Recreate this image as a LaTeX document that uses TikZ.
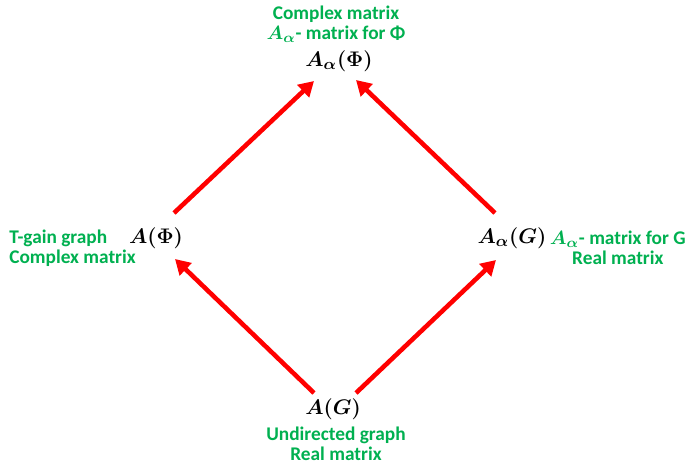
\documentclass[tikz,border=0pt]{standalone}
\usepackage{amsmath}
\usepackage{bm}
\usepackage{fontspec}
\setsansfont{Carlito}
\usetikzlibrary{arrows.meta}
\definecolor{lblgreen}{RGB}{0,176,80}

\begin{document}
\begin{tikzpicture}[x=0.02cm,y=-0.02cm,line width=.35pt,
  mat/.style={inner sep=0pt,font=\fontsize{12.8}{15}\selectfont},
  lbl/.style={inner sep=0pt,text=lblgreen,font=\sffamily\bfseries\fontsize{11}{11.2}\selectfont},
  arr/.style={draw=red,line width=2.6pt,-{Triangle[length=8.5pt,width=9.5pt]}}]
\useasboundingbox (0,0) rectangle (690,464);
\node[mat] (top) at (339,61) {$\bm{A_\alpha(\Phi)}$};
\node[mat] (lft) at (156,238) {$\bm{A(\Phi)}$};
\node[mat] (rgt) at (512,238) {$\bm{A_\alpha(G)}$};
\node[mat] (bot) at (333,409) {$\bm{A(G)}$};
\node[lbl,align=center] (toplbl) at (336,24) {Complex matrix\\$\bm{A_\alpha}$- matrix for Φ};
\node[lbl,align=left,anchor=west] (lftlbl) at (9,248) {T-gain graph\\Complex matrix};
\node[lbl,align=center,anchor=east] (rgtlbl) at (686,248) {$\bm{A_\alpha}$- matrix for G\\Real matrix};
\node[lbl,align=center] (botlbl) at (336,444) {Undirected graph\\Real matrix};
\draw[arr] ([shift={(18,-25)}]lft.center) -- ([shift={(-25,20)}]top.center);
\draw[arr] ([shift={(-17,-25)}]rgt.center) -- ([shift={(17,19)}]top.center);
\draw[arr] ([shift={(-19,-16)}]bot.center) -- ([shift={(19,21)}]lft.center);
\draw[arr] ([shift={(23,-16)}]bot.center) -- ([shift={(-16,22)}]rgt.center);
\end{tikzpicture}
\end{document}
